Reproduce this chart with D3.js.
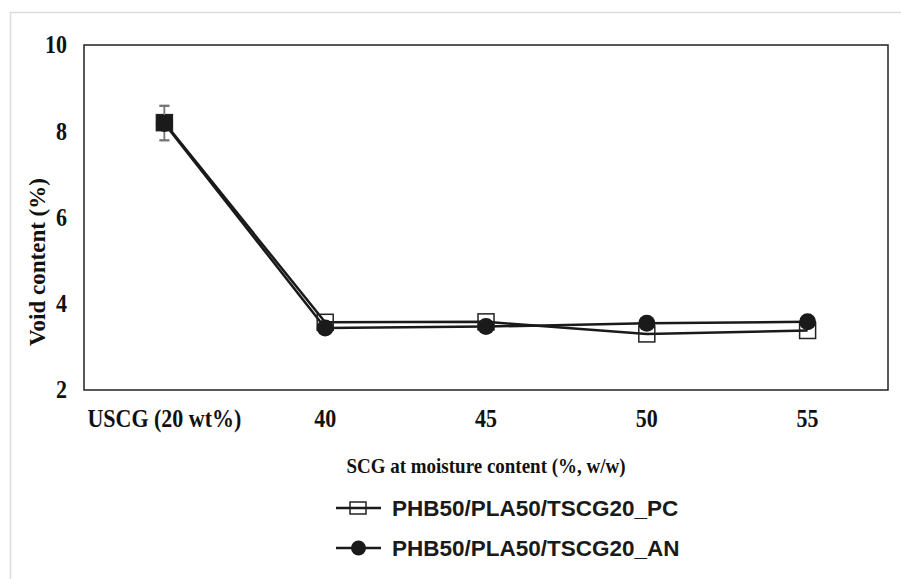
<!DOCTYPE html>
<html><head><meta charset="utf-8">
<script src="https://cdn.jsdelivr.net/npm/d3@7"></script>
<style>body{margin:0;background:#fff}svg{display:block}</style>
</head><body>
<script>
const categories = ["USCG (20 wt%)", "40", "45", "50", "55"];
const pcValues = [8.2, 3.57, 3.58, 3.3, 3.38];
const anValues = [8.18, 3.44, 3.47, 3.55, 3.58];
const pcErrors = [0.4, 0, 0, 0, 0];
const anErrors = [0.4, 0, 0, 0, 0];
const yTicks = [2, 4, 6, 8, 10];
const seriesNames = ["PHB50/PLA50/TSCG20_PC", "PHB50/PLA50/TSCG20_AN"];

const W = 901, H = 579;
const svg = d3.select("body").append("svg").attr("width", W).attr("height", H);
svg.append("rect").attr("width", W).attr("height", H).attr("fill", "#fff");
svg.append("path").attr("d", `M10.5,${H} V12.5 H${W}`).attr("fill","none").attr("stroke","#dcdcdc").attr("stroke-width",1.5);

const m = {l: 84, r: 888, t: 45, b: 390};
const x = d3.scaleBand().domain(categories).range([m.l, m.r]);
const y = d3.scaleLinear().domain([2, 10]).range([m.b, m.t]);
const cx = d => x(d) + x.bandwidth() / 2;

svg.append("rect").attr("x", m.l).attr("y", m.t).attr("width", m.r - m.l).attr("height", m.b - m.t)
  .attr("fill", "none").attr("stroke", "#222").attr("stroke-width", 1.5);

const serif = "'Liberation Serif','Times New Roman',serif";
const sans = "'Liberation Sans',Arial,sans-serif";

const ya = svg.append("g").attr("transform", `translate(${m.l},0)`)
  .call(d3.axisLeft(y).tickValues(yTicks).tickSize(0).tickPadding(17).tickFormat(d3.format("d")));
ya.select(".domain").remove();
ya.selectAll("text").attr("font-family", serif).attr("font-weight", "bold").attr("font-size", 22)
  .attr("fill", "#111").attr("transform", "scale(1,1.1)");

const xa = svg.append("g").attr("transform", `translate(0,${m.b})`)
  .call(d3.axisBottom(x).tickSize(0).tickPadding(17));
xa.select(".domain").remove();
xa.selectAll("text").attr("font-family", serif).attr("font-weight", "bold").attr("font-size", 22)
  .attr("fill", "#111").attr("transform", "scale(1,1.12)");

svg.append("text").attr("transform", `translate(45,262) rotate(-90)`)
  .attr("text-anchor", "middle").attr("font-family", serif).attr("font-weight", "bold").attr("font-size", 23)
  .attr("fill", "#111").text("Void content (%)");
svg.append("text").attr("transform", "translate(486,473) scale(1,1.12)").attr("text-anchor", "middle")
  .attr("font-family", serif).attr("font-weight", "bold").attr("font-size", 19).attr("fill", "#111")
  .text("SCG at moisture content (%, w/w)");

const line = d3.line().x((d, i) => cx(categories[i])).y(d => y(d));
svg.append("path").datum(pcValues).attr("d", line).attr("fill", "none").attr("stroke", "#1a1a1a").attr("stroke-width", 2.5);
svg.append("path").datum(anValues).attr("d", line).attr("fill", "none").attr("stroke", "#1a1a1a").attr("stroke-width", 2.5);

function errBars(vals, errs) {
  vals.forEach((v, i) => {
    if (!errs[i]) return;
    const px = cx(categories[i]);
    const g = svg.append("g").attr("stroke", "#777").attr("stroke-width", 1.5);
    g.append("line").attr("x1", px).attr("x2", px).attr("y1", y(v + errs[i])).attr("y2", y(v - errs[i]));
    g.append("line").attr("x1", px - 5).attr("x2", px + 5).attr("y1", y(v + errs[i])).attr("y2", y(v + errs[i]));
    g.append("line").attr("x1", px - 5).attr("x2", px + 5).attr("y1", y(v - errs[i])).attr("y2", y(v - errs[i]));
  });
}
errBars(pcValues, pcErrors);
svg.selectAll(".sq").data(pcValues).join("rect")
  .attr("x", (d, i) => cx(categories[i]) - 8).attr("y", d => y(d) - 8)
  .attr("width", 16).attr("height", 16).attr("fill", (d, i) => i === 0 ? "#1a1a1a" : "none")
  .attr("stroke", "#222").attr("stroke-width", 1.5);
errBars(anValues, anErrors);
svg.selectAll(".ci").data(anValues).join("circle")
  .attr("cx", (d, i) => cx(categories[i])).attr("cy", d => y(d)).attr("r", 8.5).attr("fill", "#1a1a1a");

const legY = [508, 548];
seriesNames.forEach((name, i) => {
  const g = svg.append("g").attr("transform", `translate(0,${legY[i]})`);
  g.append("line").attr("x1", 336).attr("x2", 381).attr("y1", 0).attr("y2", 0).attr("stroke", "#1a1a1a").attr("stroke-width", 2.5);
  if (i === 0) g.append("rect").attr("x", 350).attr("y", -6).attr("width", 16).attr("height", 12).attr("fill", "none").attr("stroke", "#222").attr("stroke-width", 1.5);
  else g.append("circle").attr("cx", 358.5).attr("cy", 0).attr("r", 7.5).attr("fill", "#1a1a1a");
  g.append("text").attr("x", 392).attr("y", 8).attr("font-family", sans).attr("font-weight", "bold")
    .attr("font-size", 22.5).attr("fill", "#1a1a1a").text(name);
});
</script>
</body></html>
